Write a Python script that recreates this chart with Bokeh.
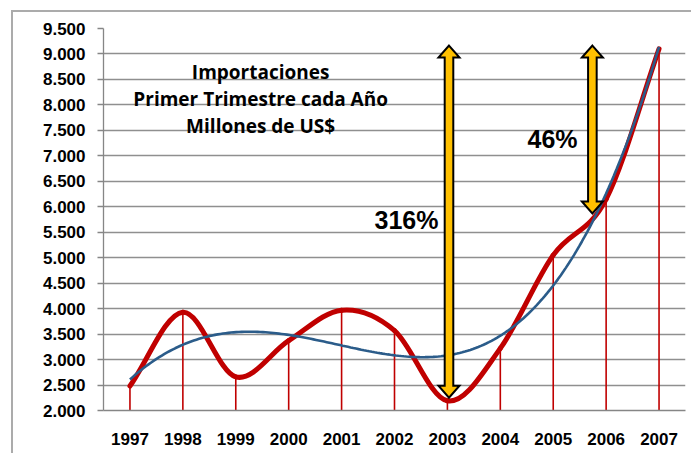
import numpy as np
from bokeh.plotting import figure
from bokeh.models import FixedTicker, Range1d, ColumnDataSource
from bokeh.core.properties import value
from bokeh.embed import file_html
from bokeh.resources import INLINE

# ---- data ----
years = ["1997", "1998", "1999", "2000", "2001", "2002", "2003", "2004", "2005", "2006", "2007"]
imports = [2480, 3930, 2660, 3370, 3970, 3570, 2190, 3220, 5050, 6150, 9100]
y_ticks = [2000, 2500, 3000, 3500, 4000, 4500, 5000, 5500, 6000, 6500, 7000, 7500, 8000, 8500, 9000, 9500]
y_tick_labels = ["2.000", "2.500", "3.000", "3.500", "4.000", "4.500", "5.000", "5.500",
                 "6.000", "6.500", "7.000", "7.500", "8.000", "8.500", "9.000", "9.500"]
title_lines = ["Importaciones", "Primer Trimestre cada Año", "Millones de US$"]
pct_labels = ["316%", "46%"]

# ---- layout ----
W, H = 680, 443
ML, MR, MT, MB = 90, 8, 16, 45
Y0, Y1 = 2000, 9500
n = len(years)
idx = np.arange(n)
X0, X1 = -0.5, n - 0.5
frame_w = W - ML - MR
frame_h = H - MT - MB
ux = (X1 - X0) / frame_w   # data units per px (x)
uy = (Y1 - Y0) / frame_h   # data units per px (y)

p = figure(width=W, height=H, output_backend="svg", toolbar_location=None,
           x_range=Range1d(X0, X1), y_range=Range1d(Y0, Y1),
           min_border_left=ML, min_border_right=MR, min_border_top=MT, min_border_bottom=MB)
p.outline_line_color = None
p.background_fill_color = "white"
p.border_fill_color = "white"
p.margin = (10, 0, 0, 11)
p.styles = {"border-top": "2px solid #ababab", "border-left": "2px solid #ababab"}

# axes
p.xgrid.grid_line_color = None
p.ygrid.grid_line_color = "#8f8f8f"
p.ygrid.grid_line_width = 1.4
p.ygrid.ticker = FixedTicker(ticks=y_ticks)

p.yaxis.ticker = FixedTicker(ticks=y_ticks)
p.yaxis.major_label_overrides = {t: l for t, l in zip(y_ticks, y_tick_labels)}
p.yaxis.major_tick_out = 6
p.yaxis.major_tick_in = 0
p.yaxis.minor_tick_line_color = None
p.yaxis.major_label_standoff = 12

p.xaxis.ticker = FixedTicker(ticks=list(idx), minor_ticks=list(np.arange(n + 1) - 0.5))
p.xaxis.major_label_overrides = {int(i): y for i, y in zip(idx, years)}
p.xaxis.major_tick_out = 0
p.xaxis.major_tick_in = 0
p.xaxis.minor_tick_out = 5
p.xaxis.minor_tick_in = 0
p.xaxis.major_label_standoff = 17

for ax in (p.xaxis, p.yaxis):
    ax.axis_line_color = "#868686"
    ax.axis_line_width = 1.3
    ax.major_tick_line_color = "#868686"
    ax.major_tick_line_width = 1.3
    ax.minor_tick_line_color = "#868686" if ax is p.xaxis else None
    ax.minor_tick_line_width = 1.3
    ax.major_label_text_font = "Liberation Sans"
    ax.major_label_text_font_style = "bold"
    ax.major_label_text_font_size = "17px"
    ax.major_label_text_color = "black"

# drop lines
p.segment(x0=idx, y0=[Y0] * n, x1=idx, y1=imports, line_color="#C00000", line_width=1.6)

# smoothed red line (Catmull-Rom style bezier through the data points)
v = np.array(imports, dtype=float)
m = np.zeros(n)
m[1:-1] = (v[2:] - v[:-2]) / 2
m[0] = v[1] - v[0]
m[-1] = v[-1] - v[-2]
src = ColumnDataSource(dict(x0=idx[:-1], y0=v[:-1], x1=idx[1:], y1=v[1:],
                            cx0=idx[:-1] + 1 / 3, cy0=v[:-1] + m[:-1] / 3,
                            cx1=idx[1:] - 1 / 3, cy1=v[1:] - m[1:] / 3))
p.bezier(x0="x0", y0="y0", x1="x1", y1="y1", cx0="cx0", cy0="cy0", cx1="cx1", cy1="cy1",
         source=src, line_color="#C00000", line_width=5, line_cap="round")

# polynomial trend line
xs = np.linspace(0, n - 1, 200)
coef = np.polyfit(idx, v, 4)
p.line(xs, np.polyval(coef, xs), line_color="#2B5C8A", line_width=2.6)

# double arrows
def double_arrow(xc, ytop, ybot):
    hw_head = 10.5 * ux
    hw_shaft = 4.3 * ux
    hl = 12 * uy
    xsq = [xc, xc + hw_head, xc + hw_shaft, xc + hw_shaft, xc + hw_head, xc,
           xc - hw_head, xc - hw_shaft, xc - hw_shaft, xc - hw_head]
    ysq = [ytop, ytop - hl, ytop - hl, ybot + hl, ybot + hl, ybot,
           ybot + hl, ybot + hl, ytop - hl, ytop - hl]
    p.patch(xsq, ysq, fill_color="#FFC000", line_color="black", line_width=2, line_join="miter")

double_arrow(6.03, 9165, 2250)
double_arrow(8.74, 9165, 5870)

# texts
p.text(x=[2.47] * 3, y=[8650, 8120, 7595], text=title_lines, text_align="center",
       text_baseline="alphabetic", text_font=value("Open Sans"), text_font_style="bold",
       text_font_size="19px", text_color="black")
p.text(x=[5.83, 8.46], y=[5750, 7340], text=pct_labels, text_align="right",
       text_baseline="alphabetic", text_font=value("Liberation Sans"), text_font_style="bold",
       text_font_size="25px", text_color="black")

open("out.html", "w").write(file_html(p, INLINE))
